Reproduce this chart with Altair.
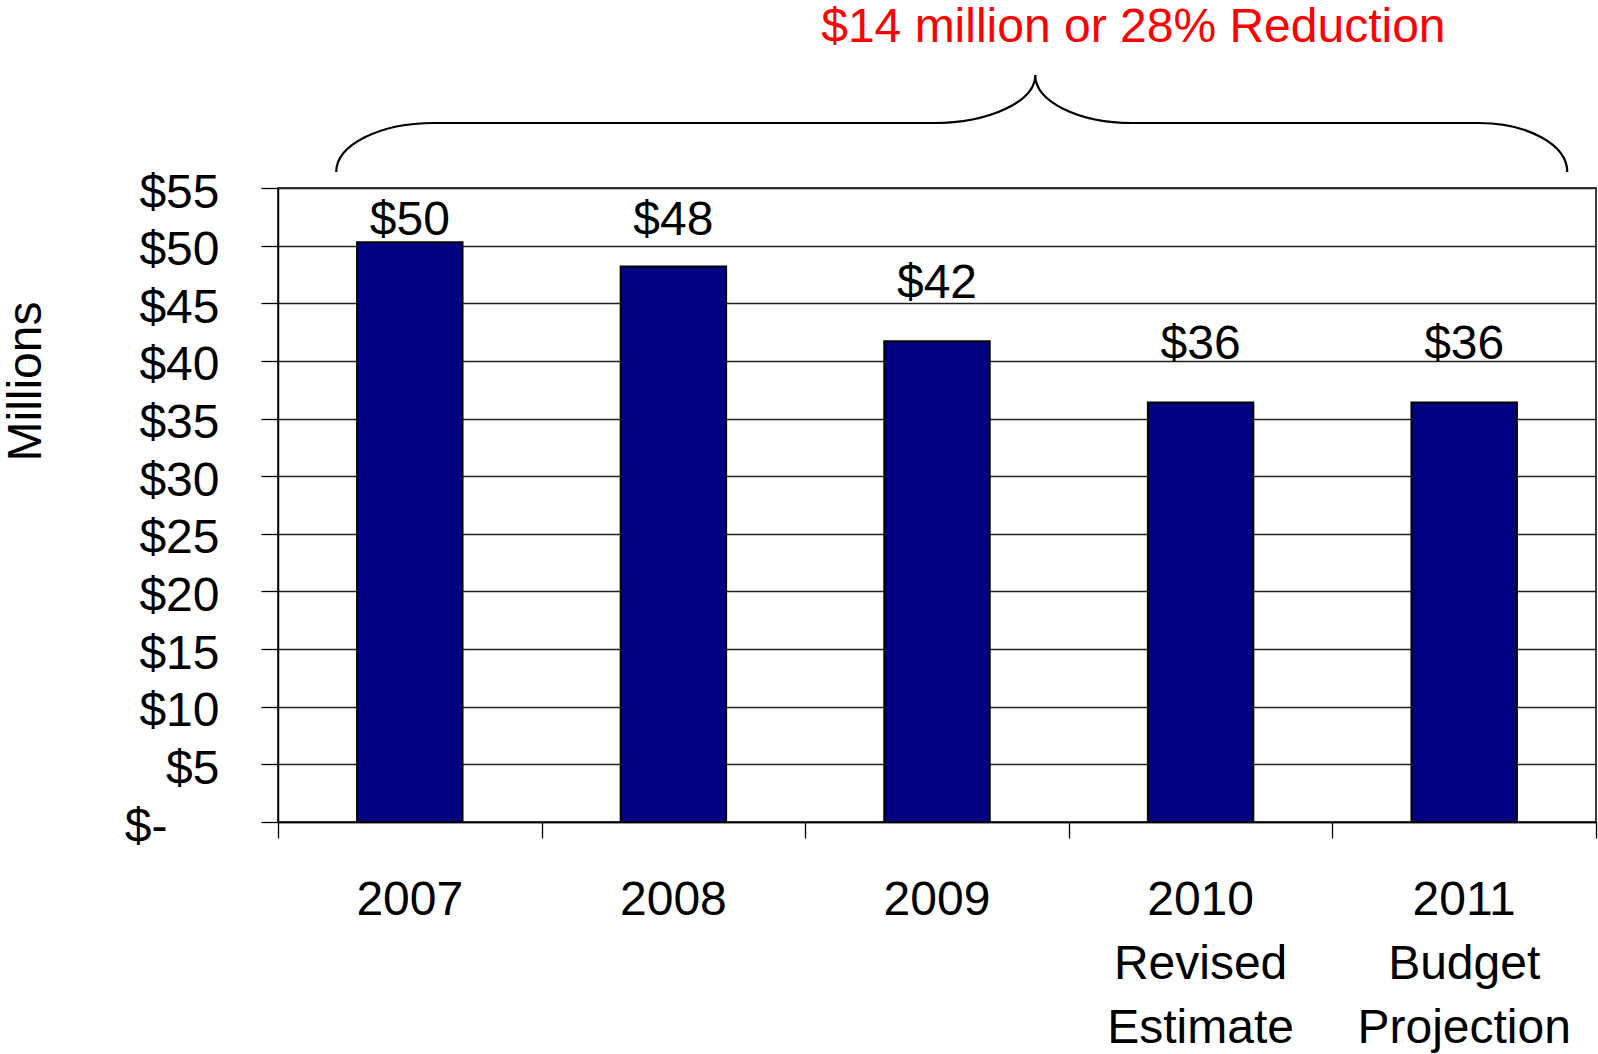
import altair as alt
import pandas as pd

# ---- data ----
years = ["2007", "2008", "2009", "2010", "2011"]
notes = ["", "", "", "Revised|Estimate", "Budget|Projection"]
values = [50.3, 48.2, 41.7, 36.4, 36.4]
value_labels = ["$50", "$48", "$42", "$36", "$36"]
y_ticks = [0, 5, 10, 15, 20, 25, 30, 35, 40, 45, 50, 55]
band_edges = [0, 1, 2, 3, 4, 5]
annotation_text = ["$14 million or 28% Reduction"]

categories = [y + ("|" + n if n else "") for y, n in zip(years, notes)]
bars_df = pd.DataFrame({"cat": categories, "value": values, "label": value_labels})

# brace decoration (in data units of a 0..5 category-index scale)
brace_df = pd.DataFrame({"bx": [2.556], "by": [60.64]})
title_df = pd.DataFrame({"tx": [3.245], "ty": [67.67], "text": annotation_text})

FONT = "Liberation Sans, Arial, sans-serif"
BRACE_PATH = (
    "M -1 0.0795 C -1 0.0356 -0.9291 0 -0.8416 0 "
    "L -0.0300 0 C 0.0610 0 0.1357 -0.0347 0.1357 -0.0780 "
    "C 0.1357 -0.0347 0.2057 0 0.2935 0 "
    "L 0.8561 0 C 0.9356 0 1 0.0356 1 0.0795"
)

x_scale = alt.Scale(paddingInner=0.6, paddingOuter=0.3)
y_scale = alt.Scale(domain=[0, 55], nice=False)
q_scale = alt.Scale(domain=[0, 5], nice=False, zero=False)

y_axis = alt.Axis(
    title="Millions",
    values=y_ticks,
    labelExpr="datum.value == 0 ? '$-' : '$' + datum.value",
    grid=True,
    gridColor="#222222",
    gridWidth=1.3,
    tickSize=17,
    tickColor="black",
    tickWidth=1.3,
    domainColor="black",
    domainWidth=1.5,
    labelPadding={"condition": {"test": "datum.value == 0", "value": 94}, "value": 42},
    labelOffset=5,
    labelFontSize=48,
    labelBaseline="middle",
    labelOverlap=False,
    labelColor="black",
    titleFontSize=48,
    titleFontWeight="normal",
    titleColor="black",
    titleAngle=270,
    titleAlign="center",
    titleBaseline="alphabetic",
    titleX=-238,
    titleY=193,
)

x_axis = alt.Axis(
    title=None,
    orient="bottom",
    labelExpr="split(datum.label, '|')",
    labelAngle=0,
    labelFontSize=48,
    labelLineHeight=64,
    labelBaseline="alphabetic",
    labelPadding=92,
    labelLimit=0,
    labelColor="black",
    ticks=False,
    tickSize=0,
    domainColor="black",
    domainWidth=1.5,
    grid=False,
)

edge_axis = alt.Axis(
    title=None,
    orient="bottom",
    values=band_edges,
    labels=False,
    ticks=True,
    tickSize=16,
    tickColor="black",
    tickWidth=1.3,
    domain=False,
    grid=False,
)

bars = alt.Chart(bars_df).mark_bar(
    color="#000080", stroke="black", strokeWidth=2
).encode(
    x=alt.X("cat:N", sort=categories, scale=x_scale, axis=x_axis),
    y=alt.Y("value:Q", scale=y_scale, axis=y_axis),
)

labels = alt.Chart(bars_df).transform_calculate(
    label_y="min(datum.value + 3.8, 50.9)"
).mark_text(
    fontSize=48, font=FONT, baseline="alphabetic", align="center", color="black"
).encode(
    x=alt.X("cat:N", sort=categories, scale=x_scale, axis=None),
    y=alt.Y("label_y:Q", scale=y_scale, axis=y_axis),
    text="label:N",
)

brace = alt.Chart(brace_df).mark_point(
    shape=BRACE_PATH, size=1231 * 1231, filled=False, stroke="black",
    strokeWidth=2.2, opacity=1
).encode(
    x=alt.X("bx:Q", scale=q_scale, axis=edge_axis),
    y=alt.Y("by:Q", scale=y_scale, axis=y_axis),
)

title = alt.Chart(title_df).mark_text(
    fontSize=48, font=FONT, baseline="alphabetic", align="center", color="#FF0000"
).encode(
    x=alt.X("tx:Q", scale=q_scale, axis=None),
    y=alt.Y("ty:Q", scale=y_scale, axis=y_axis),
    text="text:N",
)

chart = alt.layer(bars, labels, brace, title).resolve_scale(
    x="independent"
).properties(
    width=1318,
    height=634,
    autosize=alt.AutoSizeParams(type="none"),
    padding={"left": 278, "top": 188, "right": 2, "bottom": 232},
    background="white",
).configure_view(
    stroke="black", strokeWidth=1.5
).configure_axis(
    labelFont=FONT, titleFont=FONT
)

chart.save("out.html", embed_options={"renderer": "svg", "actions": False})
